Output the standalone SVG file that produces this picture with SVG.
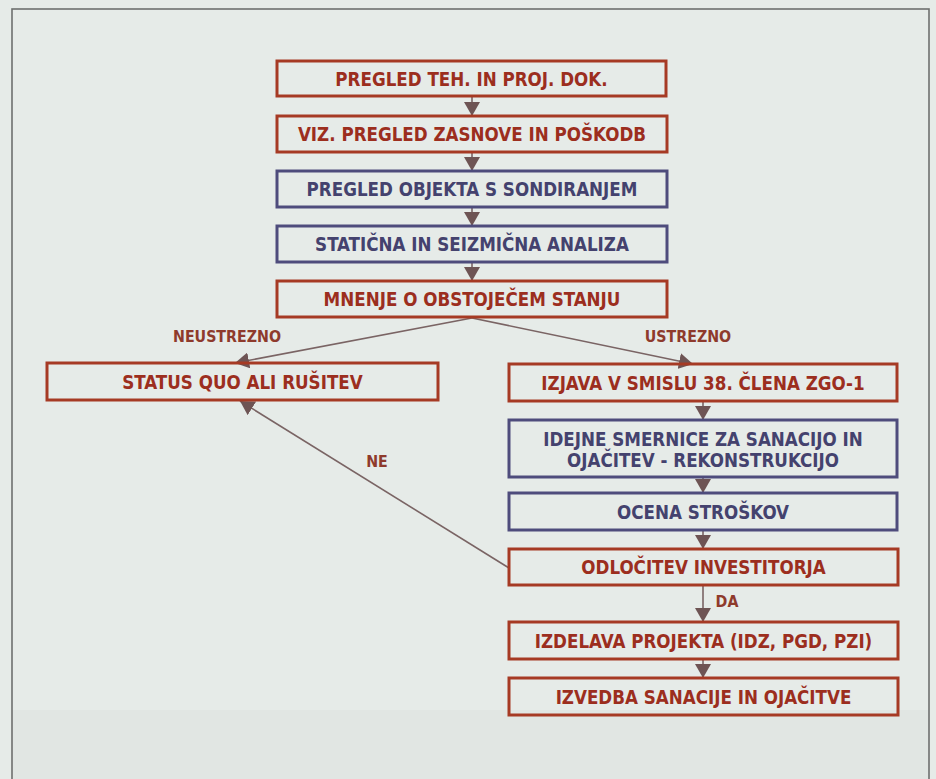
<svg xmlns="http://www.w3.org/2000/svg" width="936" height="779" viewBox="0 0 936 779">
<defs>
<marker id="ahd" viewBox="0 0 14 16" refX="14" refY="8" markerWidth="14" markerHeight="16" markerUnits="userSpaceOnUse" orient="auto">
<path d="M0,0 L14,8 L0,16 Z" fill="#6e5454"/>
</marker>
<style>
.r rect{fill:none;stroke:#a63a24;stroke-width:3}
.b rect{fill:none;stroke:#4e4c7c;stroke-width:3}
text{font-family:"DejaVu Sans Condensed","DejaVu Sans",sans-serif;font-weight:bold;font-stretch:condensed;text-anchor:middle}
.r text{fill:#9c2e1e;font-size:18.6px}
.b text{fill:#44426e;font-size:18.6px}
.lbl{fill:#8e3a2c;font-size:15.8px}
.c line{stroke:#7a6464;stroke-width:1.6}
</style>
</defs>
<rect x="0" y="0" width="936" height="779" fill="#e6ebe8"/>
<rect x="12" y="710" width="917" height="69" fill="#e1e6e3"/>
<rect x="12" y="9" width="917" height="790" fill="none" stroke="#6e706e" stroke-width="1.6"/>

<g id="connectors" class="c">
<line x1="472" y1="96" x2="472" y2="116" marker-end="url(#ahd)"/>
<line x1="472" y1="152" x2="472" y2="171" marker-end="url(#ahd)"/>
<line x1="472" y1="207" x2="472" y2="226" marker-end="url(#ahd)"/>
<line x1="472" y1="262" x2="472" y2="281" marker-end="url(#ahd)"/>
<line x1="472" y1="318" x2="235" y2="363" marker-end="url(#ahd)"/>
<line x1="472" y1="318" x2="693" y2="364" marker-end="url(#ahd)"/>
<line x1="703" y1="401" x2="703" y2="420" marker-end="url(#ahd)"/>
<line x1="703" y1="477" x2="703" y2="493" marker-end="url(#ahd)"/>
<line x1="703" y1="530" x2="703" y2="549" marker-end="url(#ahd)"/>
<line x1="703" y1="585" x2="703" y2="622" marker-end="url(#ahd)"/>
<line x1="703" y1="659" x2="703" y2="678" marker-end="url(#ahd)"/>
<line x1="509" y1="568" x2="240" y2="401" marker-end="url(#ahd)"/>
<text class="lbl" x="227" y="342">NEUSTREZNO</text>
<text class="lbl" x="688" y="342">USTREZNO</text>
<text class="lbl" x="377" y="467">NE</text>
<text class="lbl" x="727" y="607">DA</text>
</g>

<g id="n1" class="r"><rect x="277" y="61" width="389" height="35"/><text x="471.5" y="85.5">PREGLED TEH. IN PROJ. DOK.</text></g>
<g id="n2" class="r"><rect x="277" y="116" width="390" height="36"/><text x="472" y="141">VIZ. PREGLED ZASNOVE IN POŠKODB</text></g>
<g id="n3" class="b"><rect x="277" y="171" width="390" height="36"/><text x="472" y="196">PREGLED OBJEKTA S SONDIRANJEM</text></g>
<g id="n4" class="b"><rect x="277" y="226" width="390" height="36"/><text x="472" y="251">STATIČNA IN SEIZMIČNA ANALIZA</text></g>
<g id="n5" class="r"><rect x="277" y="281" width="390" height="36"/><text x="472" y="306">MNENJE O OBSTOJEČEM STANJU</text></g>
<g id="n6" class="r"><rect x="47" y="363" width="391" height="37"/><text x="242.5" y="388.5">STATUS QUO ALI RUŠITEV</text></g>
<g id="n7" class="r"><rect x="509" y="364" width="388" height="37"/><text x="703" y="389.5">IZJAVA V SMISLU 38. ČLENA ZGO-1</text></g>
<g id="n8" class="b"><rect x="509" y="420" width="388" height="57"/><text x="703" y="446">IDEJNE SMERNICE ZA SANACIJO IN</text><text x="703" y="467">OJAČITEV - REKONSTRUKCIJO</text></g>
<g id="n9" class="b"><rect x="509" y="493" width="388" height="37"/><text x="703" y="518.5">OCENA STROŠKOV</text></g>
<g id="n10" class="r"><rect x="509" y="549" width="389" height="36"/><text x="703.5" y="574">ODLOČITEV INVESTITORJA</text></g>
<g id="n11" class="r"><rect x="509" y="622" width="389" height="37"/><text x="703.5" y="647.5">IZDELAVA PROJEKTA (IDZ, PGD, PZI)</text></g>
<g id="n12" class="r"><rect x="509" y="678" width="389" height="37"/><text x="703.5" y="703.5">IZVEDBA SANACIJE IN OJAČITVE</text></g>
</svg>
